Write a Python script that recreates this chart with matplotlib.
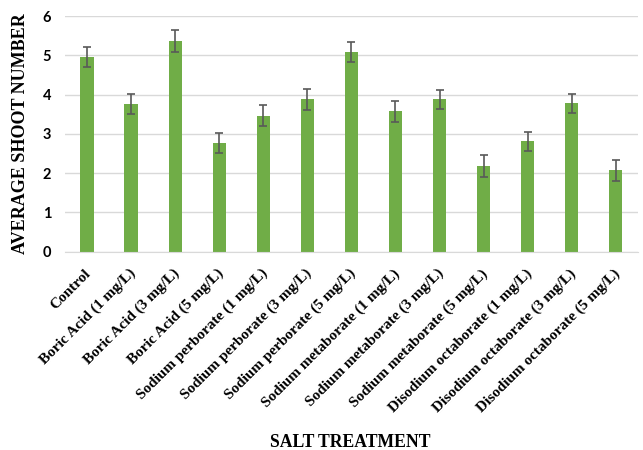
import matplotlib.pyplot as plt
import matplotlib.transforms as mtransforms
import numpy as np

treatments = ['Control', 'Boric Acid (1 mg/L)', 'Boric Acid (3 mg/L)', 'Boric Acid (5 mg/L)',
              'Sodium perborate (1 mg/L)', 'Sodium perborate (3 mg/L)', 'Sodium perborate (5 mg/L)',
              'Sodium metaborate (1 mg/L)', 'Sodium metaborate (3 mg/L)', 'Sodium metaborate (5 mg/L)',
              'Disodium octaborate (1 mg/L)', 'Disodium octaborate (3 mg/L)', 'Disodium octaborate (5 mg/L)']
shoots = [4.96, 3.76, 5.37, 2.76, 3.46, 3.88, 5.08, 3.58, 3.88, 2.18, 2.81, 3.78, 2.07]
errors = [0.26, 0.26, 0.27, 0.26, 0.27, 0.26, 0.26, 0.27, 0.25, 0.27, 0.25, 0.24, 0.27]
yticks = [0, 1, 2, 3, 4, 5, 6]

fig = plt.figure(figsize=(6.43, 4.5), dpi=100)
ax = fig.add_axes([0.101, 0.441, 0.891, 0.523])

x = np.arange(len(treatments))
ax.bar(x, shoots, width=0.3, color='#70ad47', zorder=2)
ax.errorbar(x, shoots, yerr=errors, fmt='none', ecolor='#595959', elinewidth=1.2,
            capsize=3, capthick=1.2, zorder=3)

ax.set_xlim(-0.5, len(treatments) - 0.5)
ax.set_ylim(0, 6)
ax.set_yticks(yticks)
ax.set_yticklabels([str(t) for t in yticks], fontfamily='Lato', fontweight='bold', fontsize=10.5)
ax.grid(axis='y', color='#d9d9d9', linewidth=1, zorder=0)
for side in ['top', 'right', 'left']:
    ax.spines[side].set_visible(False)
ax.spines['bottom'].set_color('#d9d9d9')
ax.tick_params(axis='both', length=0)
ax.tick_params(axis='y', pad=10)

ax.set_xticks(x)
ax.set_xticklabels(treatments, rotation=45, ha='right', va='center', rotation_mode='anchor',
                   fontfamily='Liberation Serif', fontweight='bold', fontsize=11)
# push the rotated labels down so their ends sit just under each bar
offset = mtransforms.ScaledTranslation(2 / 100, -15 / 100, fig.dpi_scale_trans)
for lbl in ax.get_xticklabels():
    lbl.set_transform(lbl.get_transform() + offset)

ax.set_ylabel('AVERAGE SHOOT NUMBER', fontfamily='Liberation Serif', fontweight='bold',
              fontsize=13, labelpad=10)
fig.text(0.545, 0.007, 'SALT TREATMENT', ha='center', va='baseline',
         fontfamily='Liberation Serif', fontweight='bold', fontsize=12.7)

fig.savefig('out.png', dpi=100)
